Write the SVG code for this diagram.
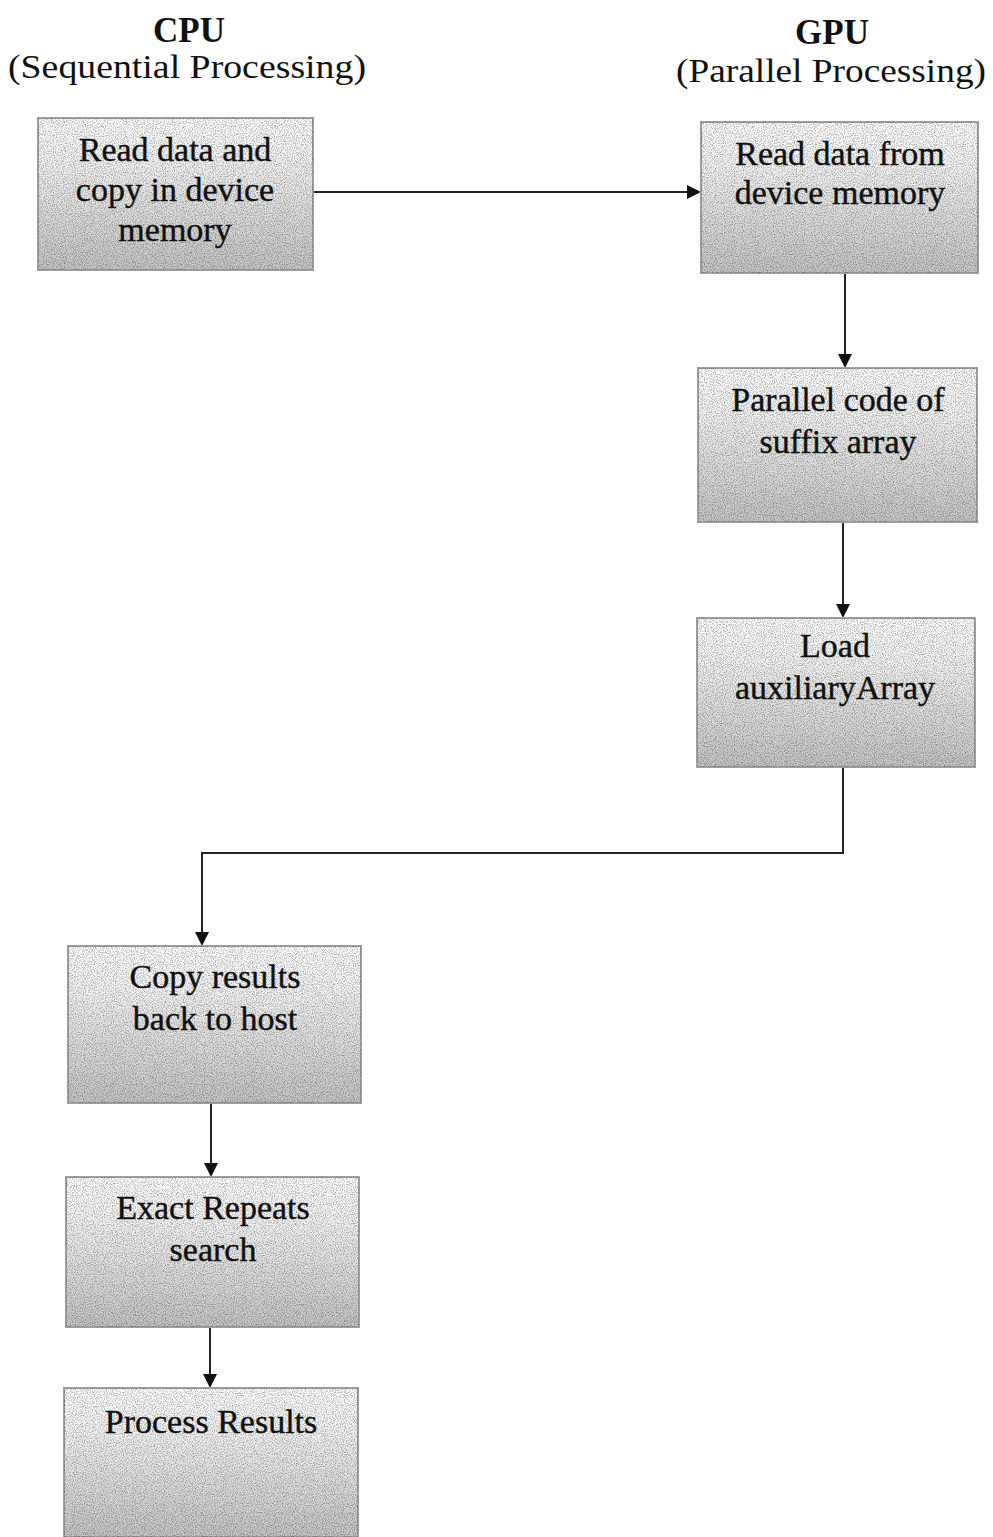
<svg xmlns="http://www.w3.org/2000/svg" width="993" height="1537" viewBox="0 0 993 1537">
  <style>
    .title { font-family: "Liberation Serif", "DejaVu Serif", serif; font-size: 35px; font-weight: bold; fill: #111; text-anchor: middle; }
    .sub { font-family: "Liberation Serif", "DejaVu Serif", serif; font-size: 34px; fill: #111; text-anchor: middle; }
    .label { font-family: "Liberation Serif", "DejaVu Serif", serif; font-size: 34px; fill: #111; stroke: #111; stroke-width: 0.4; text-anchor: middle; }
    .box { fill: url(#shade); stroke: #a0a0a0; stroke-width: 2; }
    .grain { fill: #fff; filter: url(#noise); opacity: 0.4; }
    .wire { fill: none; stroke: #222; stroke-width: 2; }
  </style>
  <defs>
    <linearGradient id="shade" x1="0" y1="0" x2="0" y2="1">
      <stop offset="0" stop-color="#ffffff"/>
      <stop offset="0.3" stop-color="#f4f4f4"/>
      <stop offset="1" stop-color="#c6c6c6"/>
    </linearGradient>
    <filter id="noise" x="0" y="0" width="100%" height="100%">
      <feTurbulence type="fractalNoise" baseFrequency="0.9" numOctaves="2" seed="3" result="t"/>
      <feColorMatrix in="t" type="matrix" values="0 0 0 0 0  0 0 0 0 0  0 0 0 0 0  0 0 0 -2.2 1.3" result="dots"/>
      <feComposite in="dots" in2="SourceGraphic" operator="in"/>
    </filter>
  </defs>

  <rect width="993" height="1537" fill="#fff"/>

  <!-- column headings -->
  <g id="cpu-heading">
    <text class="title" x="189" y="42">CPU</text>
    <text class="sub" x="187" y="78" textLength="358" lengthAdjust="spacingAndGlyphs">(Sequential Processing)</text>
  </g>
  <g id="gpu-heading">
    <text class="title" x="832" y="44">GPU</text>
    <text class="sub" x="831" y="82" textLength="310" lengthAdjust="spacingAndGlyphs">(Parallel Processing)</text>
  </g>

  <!-- connectors -->
  <g id="connectors">
    <path class="wire" d="M313,192 L688,192"/>
    <path class="wire" d="M845,273 L845,356"/>
    <path class="wire" d="M843,522 L843,606"/>
    <path class="wire" d="M843,767 L843,853 L202,853 L202,934"/>
    <path class="wire" d="M211,1103 L211,1165"/>
    <path class="wire" d="M210,1327 L210,1376"/>
    <path d="M701,192 l-14,-7 v14 z" fill="#111"/>
    <path d="M845,368 l-7,-14 h14 z" fill="#111"/>
    <path d="M843,618 l-7,-14 h14 z" fill="#111"/>
    <path d="M202,946 l-7,-14 h14 z" fill="#111"/>
    <path d="M211,1177 l-7,-14 h14 z" fill="#111"/>
    <path d="M210,1388 l-7,-14 h14 z" fill="#111"/>
  </g>

  <g id="read-copy">
    <rect class="box" x="38" y="118" width="275" height="152"/>
    <rect class="grain" x="38" y="118" width="275" height="152"/>
    <text class="label" x="175" y="161">Read data and</text>
    <text class="label" x="175" y="201">copy in device</text>
    <text class="label" x="175" y="241">memory</text>
  </g>

  <g id="read-device">
    <rect class="box" x="701" y="122" width="277" height="151"/>
    <rect class="grain" x="701" y="122" width="277" height="151"/>
    <text class="label" x="840" y="165">Read data from</text>
    <text class="label" x="840" y="204">device memory</text>
  </g>

  <g id="parallel-code">
    <rect class="box" x="698" y="368" width="279" height="154"/>
    <rect class="grain" x="698" y="368" width="279" height="154"/>
    <text class="label" x="838" y="411">Parallel code of</text>
    <text class="label" x="838" y="453">suffix array</text>
  </g>

  <g id="load-aux">
    <rect class="box" x="697" y="618" width="278" height="149"/>
    <rect class="grain" x="697" y="618" width="278" height="149"/>
    <text class="label" x="835" y="657">Load</text>
    <text class="label" x="835" y="699">auxiliaryArray</text>
  </g>

  <g id="copy-back">
    <rect class="box" x="68" y="946" width="293" height="157"/>
    <rect class="grain" x="68" y="946" width="293" height="157"/>
    <text class="label" x="215" y="988">Copy results</text>
    <text class="label" x="215" y="1030">back to host</text>
  </g>

  <g id="exact-repeats">
    <rect class="box" x="66" y="1177" width="293" height="150"/>
    <rect class="grain" x="66" y="1177" width="293" height="150"/>
    <text class="label" x="213" y="1219">Exact Repeats</text>
    <text class="label" x="213" y="1261">search</text>
  </g>

  <g id="process-results">
    <rect class="box" x="64" y="1388" width="294" height="149"/>
    <rect class="grain" x="64" y="1388" width="294" height="149"/>
    <text class="label" x="211" y="1433">Process Results</text>
  </g>
</svg>
